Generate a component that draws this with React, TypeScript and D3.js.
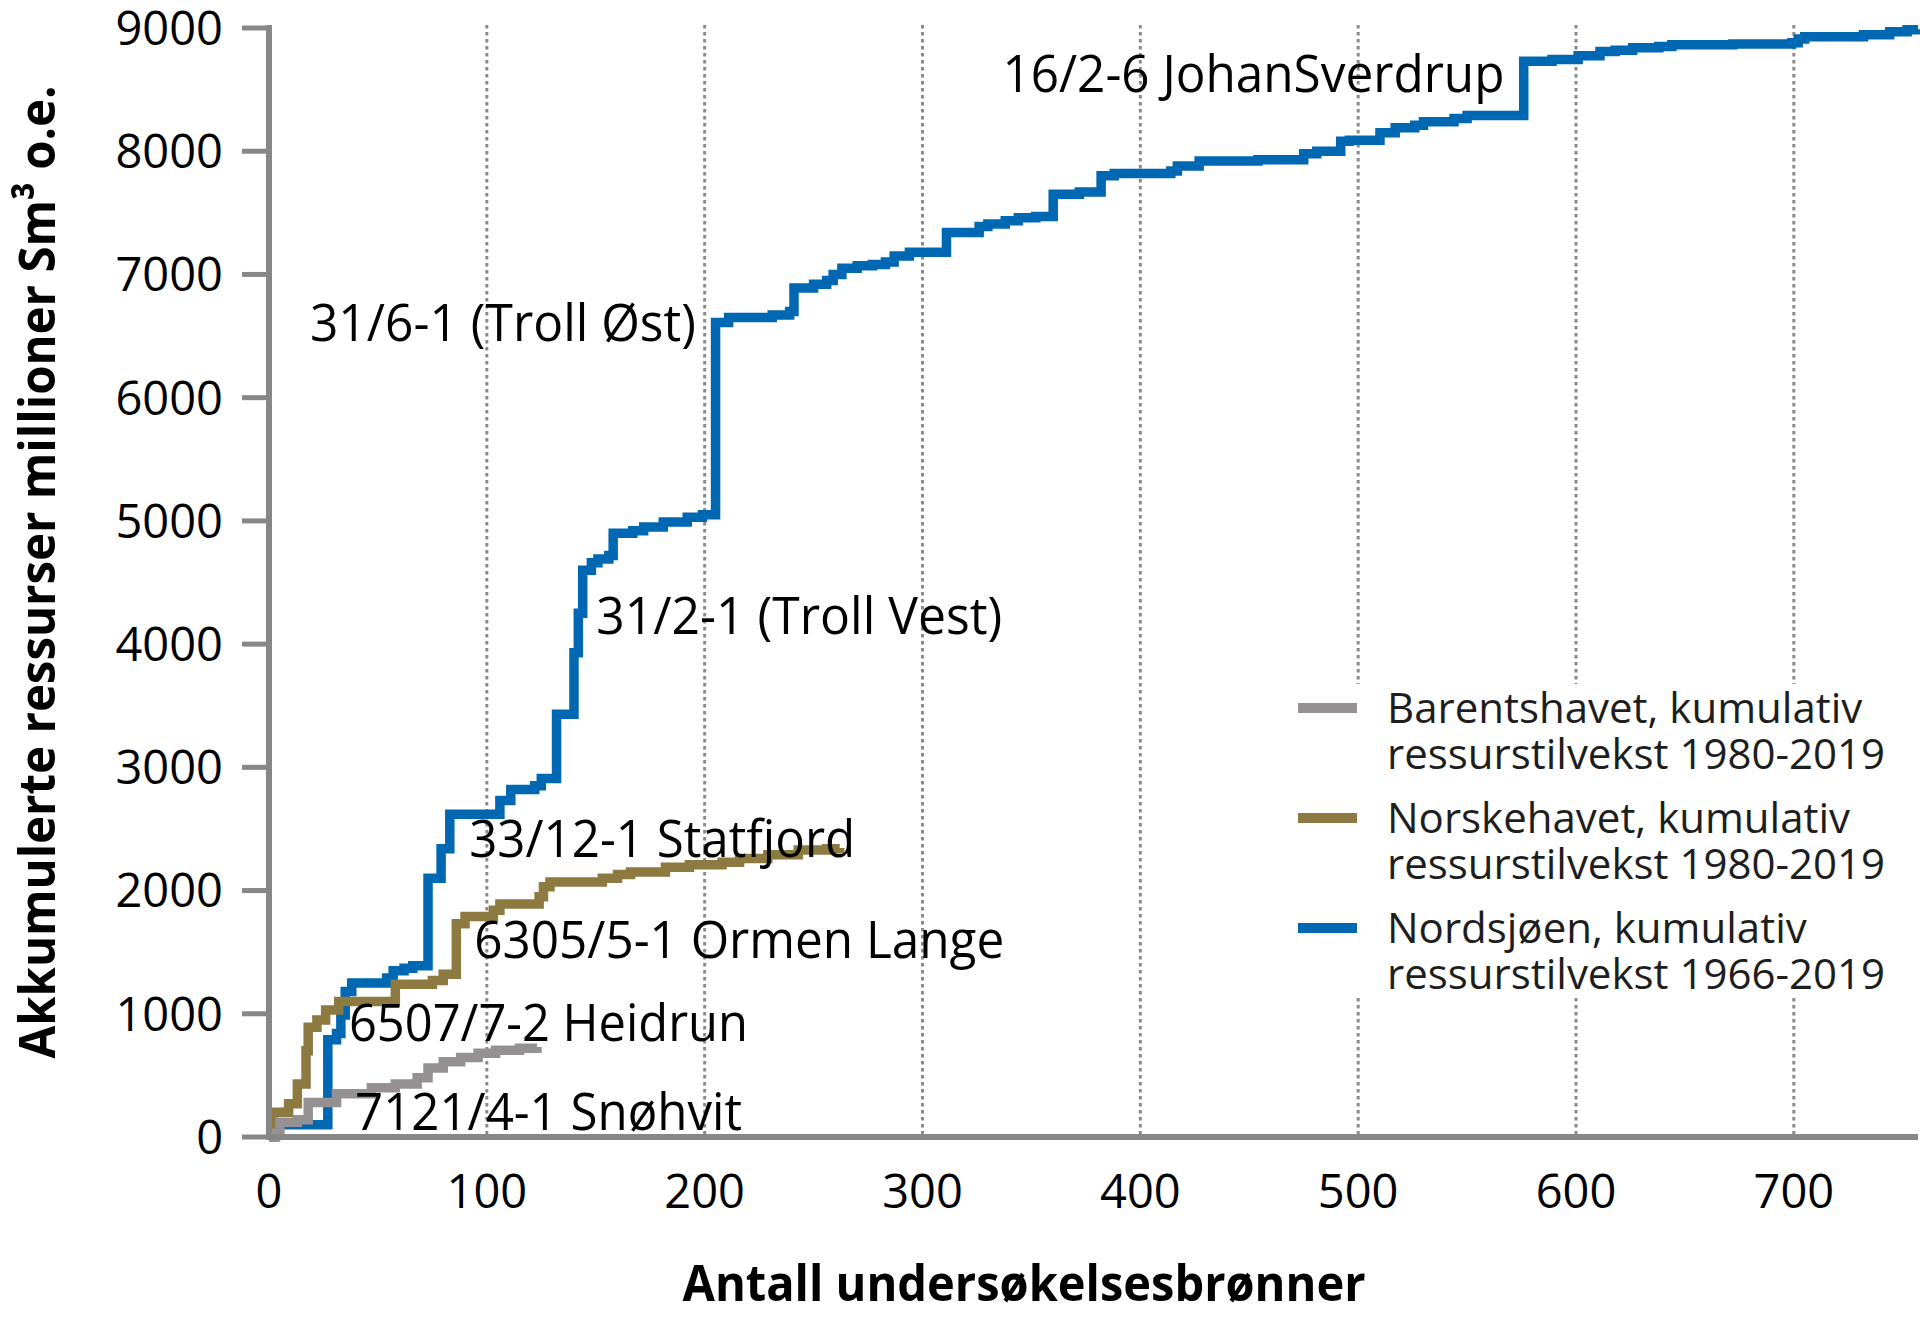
import React from 'react';
import * as d3 from 'd3';

// ---- data ----
const xTicks = [0, 100, 200, 300, 400, 500, 600, 700];
const yTicks = [0, 1000, 2000, 3000, 4000, 5000, 6000, 7000, 8000, 9000];
const gridTicks = [100, 200, 300, 400, 500, 600, 700];

// Nordsjøen cumulative resources [well count, mill. Sm3 o.e.]
const nordsjoen: [number, number][] = [
  [0, 0], [2, 100], [27, 790], [31, 840], [33, 990], [35, 1180], [38, 1250], [54, 1290], [57, 1350],
  [62, 1370], [66, 1390], [73, 2100], [79, 2340], [83, 2620], [106, 2730], [111, 2820], [122, 2850],
  [125, 2910], [132, 3430], [140, 3930], [142, 4250], [144, 4600], [148, 4660], [151, 4690], [156, 4720],
  [158, 4900], [167, 4920], [172, 4950], [181, 4990], [192, 5030], [199, 5050], [205, 6610], [211, 6650],
  [231, 6670], [239, 6700], [241, 6890], [250, 6920], [256, 6950], [259, 7000], [263, 7050], [270, 7070],
  [277, 7080], [283, 7100], [287, 7150], [294, 7180], [311, 7340], [326, 7390], [330, 7410], [338, 7435],
  [344, 7460], [352, 7470], [360, 7650], [372, 7670], [382, 7800], [388, 7820], [414, 7840], [417, 7880],
  [427, 7920], [454, 7930], [475, 7980], [481, 8000], [492, 8080], [496, 8090], [510, 8150], [517, 8190],
  [526, 8210], [530, 8240], [544, 8265], [550, 8290], [576, 8730], [589, 8745], [601, 8775], [611, 8810],
  [618, 8820], [626, 8840], [638, 8850], [644, 8865], [672, 8870], [699, 8880], [702, 8910], [705, 8930],
  [732, 8945], [744, 8970], [752, 8985], [757, 8990],
];

// Norskehavet
const norskehavet: [number, number][] = [
  [0, 30], [2, 200], [9, 270], [13, 430], [17, 700], [18, 890], [22, 950], [26, 1030], [32, 1100],
  [58, 1240], [75, 1270], [80, 1320], [86, 1730], [90, 1790], [103, 1840], [106, 1890], [124, 1950],
  [126, 2030], [129, 2070], [153, 2100], [160, 2130], [166, 2150], [182, 2190], [193, 2210], [208, 2230],
  [216, 2260], [229, 2290], [243, 2330], [256, 2340], [262, 2345],
];

// Barentshavet
const barentshavet: [number, number][] = [
  [0, 0], [3, 30], [5, 120], [13, 140], [18, 280], [31, 350], [47, 400], [58, 430], [68, 480],
  [73, 560], [80, 610], [88, 645], [96, 680], [104, 705], [115, 720], [123, 730],
];

const legendLabels = [
  ['Barentshavet, kumulativ', 'ressurstilvekst 1980-2019'],
  ['Norskehavet, kumulativ', 'ressurstilvekst 1980-2019'],
  ['Nordsjøen, kumulativ', 'ressurstilvekst 1966-2019'],
];

// discovery labels, anchored at data coordinates
const annotationLabels = [
  '16/2-6 JohanSverdrup', '31/6-1 (Troll Øst)', '31/2-1 (Troll Vest)', '33/12-1 Statfjord',
  '6305/5-1 Ormen Lange', '6507/7-2 Heidrun', '7121/4-1 Snøhvit',
];
const annotationX = [336.7, 18.8, 150.2, 91.9, 94.2, 36.7, 39.5];
const annotationY = [8482, 6461, 4083, 2273, 1453, 779, 57];

const xTitle = 'Antall undersøkelsesbrønner';
const yTitle = 'Akkumulerte ressurser millioner Sm³ o.e.';

// ---- styles ----
const FONT = '"Open Sans", "DejaVu Sans", sans-serif';
const annotationWidths = [502, 386, 406, 386, 530, 399, 387];
const colors = { nordsjoen: '#0068b3', norskehavet: '#8c7a40', barentshavet: '#959192' };
const legendColors = [colors.barentshavet, colors.norskehavet, colors.nordsjoen];
const axisColor = '#878787';

export default function App() {
  const W = 1920;
  const H = 1317;
  const x = d3.scaleLinear().domain([0, 757]).range([269, 1918]);
  const y = d3.scaleLinear().domain([0, 9000]).range([1137, 28]);
  const line = d3
    .line<[number, number]>()
    .x((d) => x(d[0]))
    .y((d) => y(d[1]))
    .curve(d3.curveStepAfter);

  const legendX = 1298;
  const legendY0 = 708;
  const legendStep = 110;
  const lw = 9.5;

  return (
    <svg
      width={W}
      height={H}
      viewBox={`0 0 ${W} ${H}`}
      style={{ position: 'absolute', left: 0, top: 0, display: 'block', background: '#fff' }}
      fontFamily={FONT}
    >
      <rect x={0} y={0} width={W} height={H} fill="#fff" />
      {/* vertical dotted gridlines */}
      {gridTicks.map((t) => (
        <line
          key={t}
          x1={x(t)}
          x2={x(t)}
          y1={y(9000) - 3}
          y2={y(0)}
          stroke="#8a8a8a"
          strokeWidth={3}
          strokeDasharray="3.5,3.5"
        />
      ))}

      {/* legend background hides gridlines */}
      <rect x={1282} y={684} width={638} height={314} fill="#fff" />

      {/* series */}
      <path d={line(nordsjoen) || ''} fill="none" stroke={colors.nordsjoen} strokeWidth={lw} />
      <path d={line(norskehavet) || ''} fill="none" stroke={colors.norskehavet} strokeWidth={lw} />
      <path d={line(barentshavet) || ''} fill="none" stroke={colors.barentshavet} strokeWidth={lw} />

      {/* axes */}
      <line x1={x(0)} x2={x(0)} y1={y(9000) - 3} y2={y(0) + 3} stroke={axisColor} strokeWidth={6} />
      <line x1={x(0) - 3} x2={x(757)} y1={y(0)} y2={y(0)} stroke={axisColor} strokeWidth={6} />
      {yTicks.map((t) => (
        <g key={t}>
          <line x1={x(0) - 27} x2={x(0)} y1={y(t)} y2={y(t)} stroke={axisColor} strokeWidth={5} />
          <text
            x={x(0) - 46}
            y={y(t)}
            dy="0.36em"
            textAnchor="end"
            fontSize={47}
            fill="#000"
          >
            {t}
          </text>
        </g>
      ))}
      {xTicks.map((t) => (
        <text key={t} x={x(t)} y={1208} textAnchor="middle" fontSize={47} fill="#000">
          {t}
        </text>
      ))}

      {/* axis titles */}
      <text
        x={1024}
        y={1301}
        textAnchor="middle"
        fontSize={50}
        fontWeight="bold"
        textLength={683}
        lengthAdjust="spacingAndGlyphs"
        fill="#000"
      >
        {xTitle}
      </text>
      <text
        transform={`translate(55, 572) rotate(-90)`}
        textAnchor="middle"
        fontSize={51}
        fontWeight="bold"
        textLength={973}
        lengthAdjust="spacingAndGlyphs"
        fill="#000"
      >
        {yTitle}
      </text>

      {/* annotations */}
      {annotationLabels.map((label, i) => (
        <text
          key={label}
          x={x(annotationX[i])}
          y={y(annotationY[i])}
          fontSize={51}
          textLength={annotationWidths[i]}
          lengthAdjust="spacingAndGlyphs"
          fill="#000"
        >
          {label}
        </text>
      ))}

      {/* legend */}
      {legendLabels.map((lines, i) => {
        const cy = legendY0 + i * legendStep;
        return (
          <g key={i}>
            <line
              x1={legendX}
              x2={legendX + 59}
              y1={cy}
              y2={cy}
              stroke={legendColors[i]}
              strokeWidth={10}
            />
            {lines.map((l, j) => (
              <text
                key={j}
                x={1387}
                y={cy + 15 + j * 45.5}
                fontSize={42}
                fill="#1e1e1e"
              >
                {l}
              </text>
            ))}
          </g>
        );
      })}
    </svg>
  );
}
